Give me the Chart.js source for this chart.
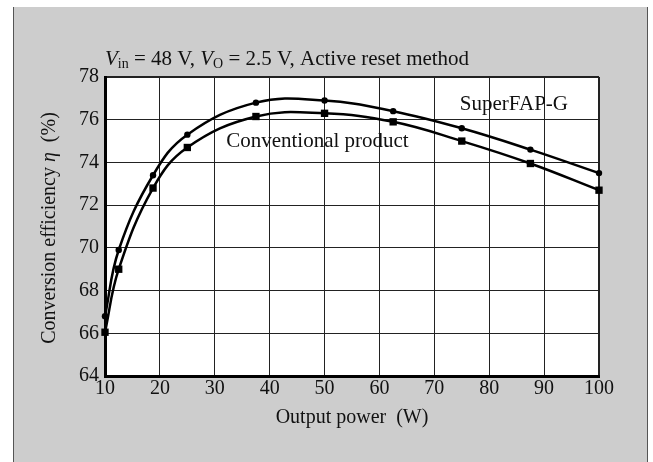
<!DOCTYPE html>
<html>
<head>
<meta charset="utf-8">
<script src="https://cdn.jsdelivr.net/npm/chart.js@4"></script>
<style>
  html, body { margin: 0; padding: 0; background: #fff; }
  #wrap { width: 653px; height: 462px; position: relative; }
</style>
</head>
<body>
<div id="wrap"><canvas id="chart" width="653" height="462"></canvas></div>
<script>
// --- data ---
const powerW = [10, 12.5, 18.75, 25, 37.5, 50, 62.5, 75, 87.5, 100];
const superFapG = [66.8, 69.9, 73.4, 75.3, 76.8, 76.9, 76.4, 75.6, 74.6, 73.5];
const conventional = [66.05, 69.0, 72.8, 74.7, 76.15, 76.3, 75.9, 75.0, 73.95, 72.7];
const xTicks = [10, 20, 30, 40, 50, 60, 70, 80, 90, 100];
const yTicks = [64, 66, 68, 70, 72, 74, 76, 78];

const SERIF = '"Liberation Serif", "DejaVu Serif", serif';

function toPoints(ys) {
    return powerW.map((x, i) => ({ x: x, y: ys[i] }));
}

// draws text runs with their own fonts, one after the other
function drawRuns(ctx, parts, x, base) {
    parts.forEach(p => {
        ctx.font = p[1];
        ctx.fillText(p[0], x, base + p[2]);
        x += ctx.measureText(p[0]).width;
    });
}

function runsWidth(ctx, parts) {
    let w = 0;
    parts.forEach(p => { ctx.font = p[1]; w += ctx.measureText(p[0]).width; });
    return w;
}

// gray panel behind the plot
const panelPlugin = {
    id: 'panel',
    beforeDraw(chart) {
        const ctx = chart.ctx;
        const a = chart.chartArea;
        ctx.save();
        ctx.fillStyle = '#ffffff';
        ctx.fillRect(0, 0, chart.width, chart.height);
        ctx.fillStyle = '#cdcdcd';
        ctx.fillRect(13, 7, 635, 455);
        ctx.strokeStyle = '#555';
        ctx.lineWidth = 1;
        ctx.beginPath();
        ctx.moveTo(13.5, 7); ctx.lineTo(13.5, 462);
        ctx.moveTo(647.5, 7); ctx.lineTo(647.5, 462);
        ctx.stroke();
        ctx.fillStyle = '#ffffff';
        ctx.fillRect(a.left, a.top, a.right - a.left, a.bottom - a.top);
        ctx.restore();
    }
};

// title, axis titles and curve labels
const textPlugin = {
    id: 'texts',
    afterDraw(chart) {
        const ctx = chart.ctx;
        const xs = chart.scales.x, ys = chart.scales.y;
        ctx.save();
        ctx.fillStyle = '#111';
        ctx.textBaseline = 'alphabetic';
        ctx.textAlign = 'left';

        // title with subscripts
        drawRuns(ctx, [
            ['V', 'italic 21px ' + SERIF, 0],
            ['in', '14px ' + SERIF, 3],
            [' = 48 V, ', '21px ' + SERIF, 0],
            ['V', 'italic 21px ' + SERIF, 0],
            ['O', '14px ' + SERIF, 3],
            [' = 2.5 V, Active reset method', '21px ' + SERIF, 0]
        ], 105, 65);

        // curve labels
        ctx.font = '21px ' + SERIF;
        ctx.textAlign = 'center';
        ctx.textBaseline = 'middle';
        ctx.fillText('SuperFAP-G', xs.getPixelForValue(84.5), ys.getPixelForValue(76.7));
        ctx.fillText('Conventional product', xs.getPixelForValue(48.7), ys.getPixelForValue(75.0));

        // axis titles
        ctx.font = '20px ' + SERIF;
        ctx.fillText('Output power  (W)', (chart.chartArea.left + chart.chartArea.right) / 2, 418);

        const yTitle = [
            ['Conversion efficiency ', '20px ' + SERIF, 0],
            ['η', 'italic 20px ' + SERIF, 0],
            ['  (%)', '20px ' + SERIF, 0]
        ];
        ctx.translate(50, 228);
        ctx.rotate(-Math.PI / 2);
        ctx.textAlign = 'left';
        drawRuns(ctx, yTitle, -runsWidth(ctx, yTitle) / 2, 0);
        ctx.restore();
    }
};

const ctx = document.getElementById('chart').getContext('2d');
new Chart(ctx, {
    type: 'line',
    data: {
        datasets: [
            {
                label: 'SuperFAP-G',
                data: toPoints(superFapG),
                borderColor: '#000',
                backgroundColor: '#000',
                borderWidth: 2.5,
                pointStyle: 'circle',
                pointRadius: 3.2,
                pointBorderWidth: 0,
                tension: 0.4,
                clip: false
            },
            {
                label: 'Conventional product',
                data: toPoints(conventional),
                borderColor: '#000',
                backgroundColor: '#000',
                borderWidth: 2.5,
                pointStyle: 'rect',
                pointRadius: 5.2,
                pointBorderWidth: 0,
                tension: 0.4,
                clip: false
            }
        ]
    },
    options: {
        responsive: false,
        devicePixelRatio: 1,
        animation: false,
        layout: { padding: { left: 0, right: 54, top: 77, bottom: 0 } },
        plugins: {
            legend: { display: false },
            tooltip: { enabled: false }
        },
        scales: {
            x: {
                type: 'linear',
                min: 10,
                max: 100,
                afterBuildTicks: scale => { scale.ticks = xTicks.map(v => ({ value: v })); },
                afterFit: scale => { scale.height = 86; },
                ticks: { color: '#111', font: { family: SERIF, size: 20 }, padding: 1, maxRotation: 0 },
                grid: {
                    color: '#222',
                    drawTicks: false,
                    lineWidth: c => (c.tick && c.tick.value === 100 ? 2 : 1)
                },
                border: { display: true, color: '#000', width: 3 }
            },
            y: {
                min: 64,
                max: 78,
                afterBuildTicks: scale => { scale.ticks = yTicks.map(v => ({ value: v })); },
                afterFit: scale => { scale.width = 105; },
                ticks: { color: '#111', font: { family: SERIF, size: 20 }, padding: 6 },
                grid: {
                    color: '#222',
                    drawTicks: false,
                    lineWidth: c => (c.tick && c.tick.value === 78 ? 2 : 1)
                },
                border: { display: true, color: '#000', width: 3 }
            }
        }
    },
    plugins: [panelPlugin, textPlugin]
});
</script>
</body>
</html>
